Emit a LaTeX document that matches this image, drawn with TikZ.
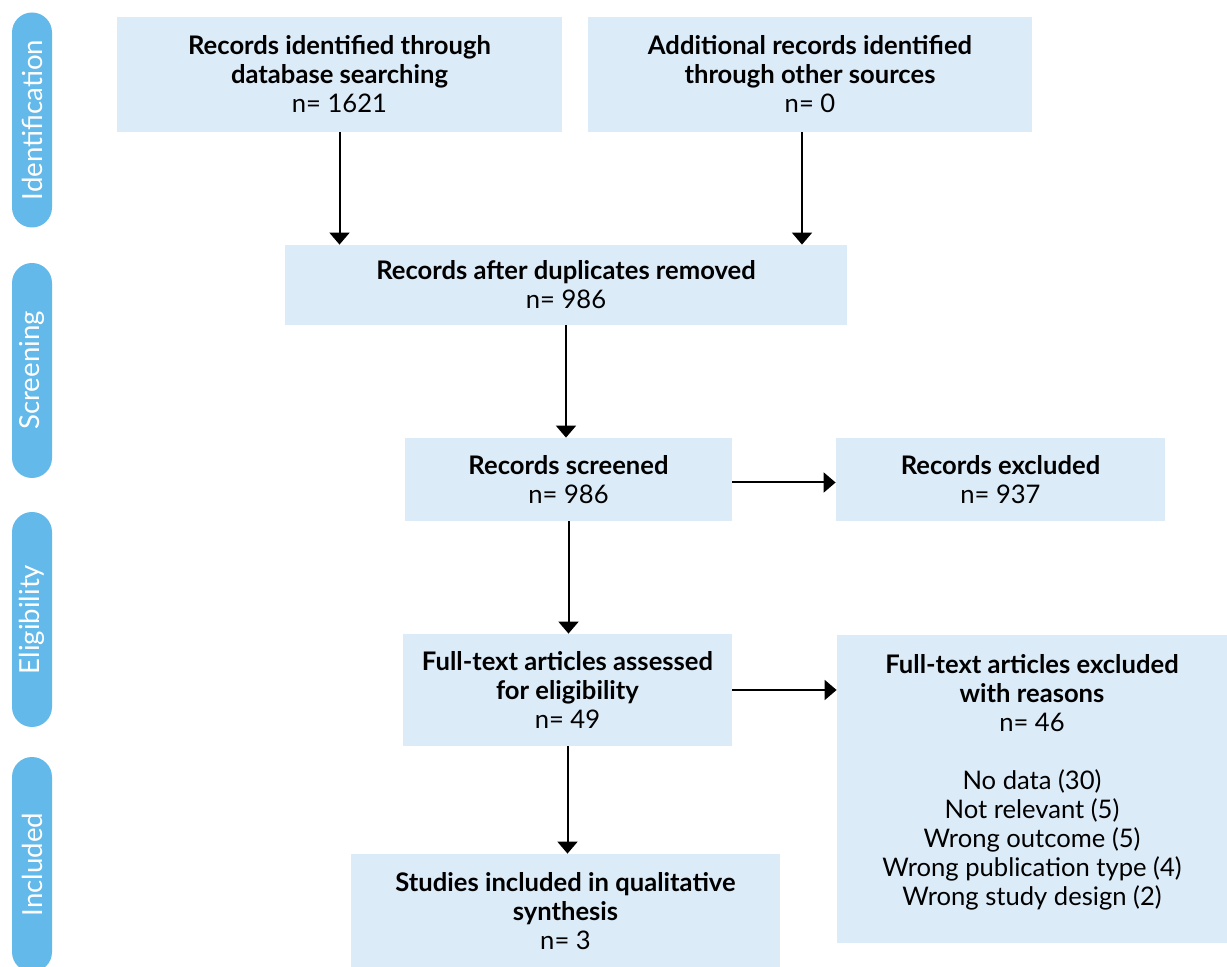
\documentclass[tikz,border=0pt]{standalone}
\usepackage{fontspec}
\setmainfont{Lato}
\usetikzlibrary{arrows.meta,positioning}
\definecolor{boxblue}{RGB}{220,235,248}
\definecolor{pillblue}{RGB}{99,185,233}

\begin{document}
\begin{tikzpicture}[x=0.5pt,y=-0.5pt,
    box/.style={fill=boxblue,inner sep=0pt,align=center,font=\fontsize{12.8}{14.5}\selectfont},
    pill/.style={fill=pillblue,rotate=90,rounded corners=10pt,minimum width=107.5pt,minimum height=20pt,inner sep=0pt,text=white,font=\fontsize{13.8}{14.5}\selectfont},
    arr/.style={line width=1pt,-{Triangle[width=10pt,length=6pt]}}]
    \useasboundingbox (0,0) rectangle (1227,967);
    \clip (0,0) rectangle (1227,967);

    % stage labels
    \node[pill] (sIdent) at (32,120) {Identification};
    \node[pill] (sScreen) at (32,370.5) {Screening};
    \node[pill] (sElig) at (32,619.5) {Eligibility};
    \node[pill] (sIncl) at (32,864.5) {Included};

    % Identification
    \node[box,minimum width=222.5pt,minimum height=57.5pt] (ident) at (339.5,74.5)
        {\textbf{Records identified through}\\\textbf{database searching}\\n= 1621};
    \node[box,minimum width=222pt,minimum height=57.5pt] (extra) at (810,74.5)
        {\textbf{Additional records identified}\\\textbf{through other sources}\\n= 0};

    % Screening
    \node[box,minimum width=281pt,minimum height=40pt] (dup) at (566,285)
        {\textbf{Records after duplicates removed}\\n= 986};
    \node[box,minimum width=163.5pt,minimum height=41.5pt] (screen) at (568.5,479.5)
        {\textbf{Records screened}\\n= 986};
    \node[box,minimum width=164.5pt,minimum height=41.5pt] (excl) at (1000.5,479.5)
        {\textbf{Records excluded}\\n= 937};

    % Eligibility
    \node[box,minimum width=164.5pt,minimum height=56pt] (full) at (567.5,690)
        {\textbf{Full-text articles assessed}\\\textbf{for eligibility}\\n= 49};
    \node[box,minimum width=195pt,minimum height=154pt] (fullex) at (1032,789)
        {\textbf{Full-text articles excluded}\\\textbf{with reasons}\\n= 46\\[14.5pt]
         No data (30)\\Not relevant (5)\\Wrong outcome (5)\\Wrong publication type (4)\\Wrong study design (2)\\[-5.5pt]~};

    % Included
    \node[box,minimum width=214.5pt,minimum height=57pt] (incl) at (565.5,911)
        {\textbf{Studies included in qualitative}\\\textbf{synthesis}\\n= 3};

    % arrows
    \draw[arr] (ident.south) -- (ident.south |- dup.north);
    \draw[arr] ([xshift=-4pt]extra.south) -- ([xshift=-4pt]extra.south |- dup.north);
    \draw[arr] (dup.south) -- (dup.south |- screen.north);
    \draw[arr] ([yshift=-1.5pt]screen.east) -- ([yshift=-1.5pt]excl.west);
    \draw[arr] (screen.south) -- (screen.south |- full.north);
    \draw[arr] (full.east) -- (fullex.west |- full.east);
    \draw[arr] (full.south) -- (full.south |- incl.north);
\end{tikzpicture}
\end{document}
